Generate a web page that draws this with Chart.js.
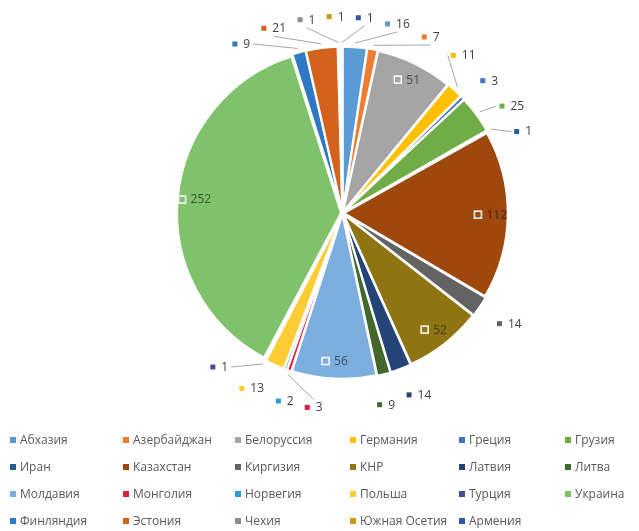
<!DOCTYPE html>
<html>
<head>
<meta charset="utf-8">
<script src="https://cdn.jsdelivr.net/npm/chart.js@4/dist/chart.umd.min.js"></script>
<style>
  html, body { margin: 0; padding: 0; background: #ffffff; }
  #wrap { position: relative; width: 639px; height: 531px; overflow: hidden; }
  #c { position: absolute; left: 0; top: 0; }
  #legend {
    position: absolute; left: 10px; top: 426px;
    display: grid; grid-template-columns: 113px 112px 115px 109px 106px 72px; grid-auto-rows: 27px;
    font-family: "Open Sans", "Noto Sans", sans-serif; font-size: 12px; color: #595959;
  }
  .li { display: flex; align-items: center; white-space: nowrap; }
  .sw { width: 6px; height: 6px; margin-right: 4px; flex: none; }
</style>
</head>
<body>
<div id="wrap">
  <canvas id="c" width="639" height="531"></canvas>
  <div id="legend"></div>
</div>
<script>
// ---- data ----
const categories = ['Абхазия', 'Азербайджан', 'Белоруссия', 'Германия', 'Греция', 'Грузия',
  'Иран', 'Казахстан', 'Киргизия', 'КНР', 'Латвия', 'Литва',
  'Молдавия', 'Монголия', 'Норвегия', 'Польша', 'Турция', 'Украина',
  'Финляндия', 'Эстония', 'Чехия', 'Южная Осетия', 'Армения'];
const values = [16, 7, 51, 11, 3, 25,
  1, 112, 14, 52, 14, 9,
  56, 3, 2, 13, 1, 252,
  9, 21, 1, 1, 1];
// ---- styles ----
const colors = ['#5B9BD5', '#ED7D31', '#A5A5A5', '#FFC000', '#4472C4', '#70AD47',
  '#255E91', '#9E480E', '#636363', '#8F7414', '#264478', '#43682B',
  '#7CAFDD', '#E31E3A', '#2E9BE0', '#FFCD33', '#4B4B9B', '#80C26C',
  '#2F78C4', '#D5621C', '#8C8C8C', '#C99A10', '#3556A8'];

const INSIDE_MIN = 40;

function darken(hex, f) {
  const n = parseInt(hex.slice(1), 16);
  const r = Math.round(((n >> 16) & 255) * f), g = Math.round(((n >> 8) & 255) * f), b = Math.round((n & 255) * f);
  return 'rgb(' + r + ',' + g + ',' + b + ')';
}

const sliceLabels = {
  id: 'sliceLabels',
  afterDatasetsDraw(chart) {
    const ctx = chart.ctx;
    const meta = chart.getDatasetMeta(0);
    const ds = chart.data.datasets[0];
    const TAU = Math.PI * 2;
    const CUT = 4.8; // compass angle inside the largest slice where label ordering wraps
    const GAP = 20;
    ctx.save();
    ctx.font = '12px "Open Sans", "Noto Sans", sans-serif';
    ctx.textBaseline = 'middle';
    ctx.textAlign = 'left';
    const outs = [];
    meta.data.forEach((arc, i) => {
      const p = arc.getProps(['x', 'y', 'startAngle', 'endAngle', 'outerRadius'], true);
      const off = arc.options.offset || 0;
      const mid = (p.startAngle + p.endAngle) / 2;
      const v = ds.data[i];
      const color = ds.backgroundColor[i];
      const txt = String(v);
      const tw = ctx.measureText(txt).width;
      if (v >= INSIDE_MIN) {
        const d = p.outerRadius * 0.87 + off;
        const cx = p.x + Math.cos(mid) * d, cy = p.y + Math.sin(mid) * d;
        const w = 7 + 5 + tw;
        const x0 = cx - w / 2;
        ctx.fillStyle = color;
        ctx.fillRect(x0, cy - 3.5, 7, 7);
        ctx.strokeStyle = '#ffffff';
        ctx.lineWidth = 1.5;
        ctx.strokeRect(x0, cy - 3.5, 7, 7);
        ctx.fillStyle = darken(color, 0.45);
        ctx.fillText(txt, x0 + 12, cy + 0.5);
      } else {
        let theta = mid + Math.PI / 2;
        while (theta >= CUT) theta -= TAU;
        while (theta < CUT - TAU) theta += TAU;
        outs.push({ v, txt, tw, w: 5 + 6 + tw, h: 14, theta, theta0: theta,
          cx: p.x, cy: p.y, R: p.outerRadius + off, color });
      }
    });
    outs.sort((a, b) => a.theta0 - b.theta0);
    const box = (L) => {
      const dx = Math.sin(L.theta), dy = -Math.cos(L.theta);
      const px = L.cx + dx * (L.R + GAP), py = L.cy + dy * (L.R + GAP);
      const bx = px + dx * L.w / 2, by = py + dy * L.h / 2;
      return { l: bx - L.w / 2, r: bx + L.w / 2, t: by - L.h / 2, b: by + L.h / 2, cx: bx, cy: by, dx, dy };
    };
    const overlap = (A, B, pad) => !(A.r + pad < B.l || B.r + pad < A.l || A.b + pad < B.t || B.b + pad < A.t);
    for (let it = 0; it < 3000; it++) {
      let moved = false;
      for (let k = 0; k < outs.length - 1; k++) {
        if (overlap(box(outs[k]), box(outs[k + 1]), 11)) {
          outs[k].theta -= 0.003;
          outs[k + 1].theta += 0.003;
          moved = true;
        }
      }
      if (!moved) break;
    }
    outs.forEach(L => {
      const B = box(L);
      if (Math.abs(L.theta - L.theta0) > 0.06) {
        const ex = L.cx + Math.sin(L.theta0) * (L.R + 1);
        const ey = L.cy - Math.cos(L.theta0) * (L.R + 1);
        let ax, ay;
        if (Math.abs(B.dx) > 0.5) {
          ax = B.dx > 0 ? B.l - 3 : B.r + 3; ay = B.cy;
        } else {
          ax = B.cx; ay = B.dy < 0 ? B.b + 1 : B.t - 1;
        }
        ctx.strokeStyle = '#A6A6A6';
        ctx.lineWidth = 1;
        ctx.beginPath();
        ctx.moveTo(ex, ey);
        ctx.lineTo(ax, ay);
        ctx.stroke();
      }
      ctx.fillStyle = L.color;
      ctx.fillRect(B.l, B.cy - 2.5, 5, 5);
      ctx.fillStyle = '#404040';
      ctx.fillText(L.txt, B.l + 11, B.cy + 0.5);
    });
    ctx.restore();
  }
};

const chart = new Chart(document.getElementById('c'), {
  type: 'pie',
  data: {
    labels: categories,
    datasets: [{
      data: values,
      backgroundColor: colors,
      borderColor: '#ffffff',
      borderWidth: 2,
      offset: 6
    }]
  },
  options: {
    responsive: false,
    animation: false,
    events: [],
    layout: { padding: { left: 175, right: 129, top: 45, bottom: 150 } },
    plugins: {
      legend: { display: false },
      tooltip: { enabled: false }
    }
  },
  plugins: [sliceLabels]
});

// HTML legend built from chart data
const legendEl = document.getElementById('legend');
chart.data.labels.forEach((lab, i) => {
  const item = document.createElement('div');
  item.className = 'li';
  const sw = document.createElement('span');
  sw.className = 'sw';
  sw.style.background = chart.data.datasets[0].backgroundColor[i];
  const t = document.createElement('span');
  t.textContent = lab;
  item.appendChild(sw);
  item.appendChild(t);
  legendEl.appendChild(item);
});
</script>
</body>
</html>
